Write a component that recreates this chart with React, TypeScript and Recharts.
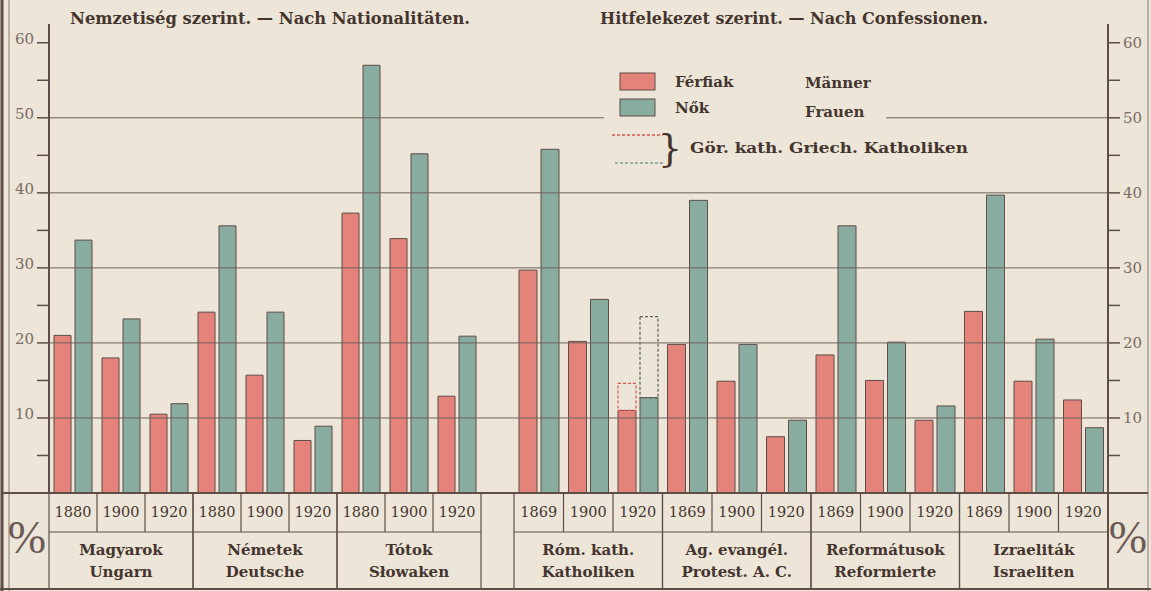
import React from "react";
import { Bar, BarChart, ReferenceLine, XAxis, YAxis } from "recharts";

// Nemzetiség szerint / Nach Nationalitäten
const natGroupsHu = ["Magyarok", "Németek", "Tótok"];
const natGroupsDe = ["Ungarn", "Deutsche", "Słowaken"];
const natYears = ["1880", "1900", "1920"];
const natMen = [21, 18, 10.5, 24.1, 15.7, 7, 37.3, 33.9, 12.9];
const natWomen = [33.7, 23.2, 11.9, 35.6, 24.1, 8.9, 57, 45.2, 20.9];

// Hitfelekezet szerint / Nach Confessionen
const confGroupsHu = ["Róm. kath.", "Ag. evangél.", "Reformátusok", "Izraeliták"];
const confGroupsDe = ["Katholiken", "Protest. A. C.", "Reformierte", "Israeliten"];
const confYears = ["1869", "1900", "1920"];
const confMen = [29.7, 20.2, 11, 19.8, 14.9, 7.5, 18.4, 15, 9.7, 24.2, 14.9, 12.4];
const confWomen = [45.8, 25.8, 12.7, 39, 19.8, 9.7, 35.6, 20.1, 11.6, 39.7, 20.5, 8.7];
// Gör. kath. (dashed, only above Róm. kath. 1920)
const greekMen = [null, null, 14.6, null, null, null, null, null, null, null, null, null];
const greekWomen = [null, null, 23.5, null, null, null, null, null, null, null, null, null];

const yTicks = [0, 5, 10, 15, 20, 25, 30, 35, 40, 45, 50, 55, 60];
const gridValues = [10, 20, 30, 40, 50];

const PAPER = "#ece5d8";
const INK = "#45352f";
const RULE = "#5e4d48";
const RED = "#e4837a";
const TEAL = "#88aca0";

const W = 1151;
const H = 591;
const AXIS_L = 49;
const AXIS_R = 1108;
const SPLIT = 499;
const ZERO_Y = 493;
const TABLE_BOTTOM = 589;

function buildRows(groups: string[], years: string[], men: number[], women: number[], gkMen?: (number | null)[], gkWomen?: (number | null)[]) {
  return men.map((m, i) => {
    const gm = gkMen ? gkMen[i] : null;
    const gw = gkWomen ? gkWomen[i] : null;
    return {
      key: groups[Math.floor(i / 3)] + " " + years[i % 3],
      men: m,
      women: women[i],
      menGk: gm != null ? gm - m : null,
      womenGk: gw != null ? gw - women[i] : null,
    };
  });
}

const natRows = buildRows(natGroupsHu, natYears, natMen, natWomen);
const confRows = buildRows(confGroupsHu, confYears, confMen, confWomen, greekMen, greekWomen);

const serif = "'DejaVu Serif', serif";

function tableTick(groupsHu: string[], groupsDe: string[], years: string[], band: number) {
  return (props: any) => {
    const { x, y, index } = props;
    const half = band / 2;
    const pos = index % 3;
    const g = Math.floor(index / 3);
    const midY = y + 39;
    const botY = TABLE_BOTTOM;
    return (
      <g>
        <text x={x} y={y + 24} textAnchor="middle" fontFamily={serif} fontSize={14.5} fill={INK}>
          {years[pos]}
        </text>
        <line x1={x - half} x2={x - half} y1={y} y2={pos === 0 ? botY : midY} stroke={RULE} strokeWidth={1.2} />
        {pos === 2 && <line x1={x + half} x2={x + half} y1={y} y2={botY} stroke={RULE} strokeWidth={1.2} />}
        {pos === 1 && (
          <g>
            <line x1={x - 3 * half} x2={x + 3 * half} y1={midY} y2={midY} stroke={RULE} strokeWidth={1.2} />
            <text x={x} y={y + 62} textAnchor="middle" fontFamily={serif} fontWeight="bold" fontSize={15} fill={INK}>
              {groupsHu[g]}
            </text>
            <text x={x} y={y + 84} textAnchor="middle" fontFamily={serif} fontWeight="bold" fontSize={15} fill={INK}>
              {groupsDe[g]}
            </text>
          </g>
        )}
      </g>
    );
  };
}

const leftTick = (p: any) => {
  const v = p.payload.value;
  if (v === 0 || v % 10 !== 0) return <g />;
  return (
    <text x={p.x} y={p.y - 4} dy="0.35em" textAnchor="end" fontFamily={serif} fontSize={15} fill="#7b6b65">
      {v}
    </text>
  );
};

const rightTick = (p: any) => {
  const v = p.payload.value;
  if (v === 0 || v % 10 !== 0) return <g />;
  return (
    <text x={p.x} y={p.y} dy="0.35em" textAnchor="start" fontFamily={serif} fontSize={15} fill="#7b6b65">
      {v}
    </text>
  );
};

function renderBars() {
  return [
    <Bar key="m" dataKey="men" stackId="m" fill={RED} stroke={RULE} strokeWidth={1} isAnimationActive={false} />,
    <Bar key="mg" dataKey="menGk" stackId="m" fill="none" stroke="#d9574f" strokeWidth={1.2} strokeDasharray="3 2" isAnimationActive={false} />,
    <Bar key="w" dataKey="women" stackId="w" fill={TEAL} stroke={RULE} strokeWidth={1} isAnimationActive={false} />,
    <Bar key="wg" dataKey="womenGk" stackId="w" fill="none" stroke="#55605c" strokeWidth={1.2} strokeDasharray="3 2" isAnimationActive={false} />,
  ];
}

export default function App() {
  const natBand = (481 - AXIS_L) / natRows.length;
  const confBand = (AXIS_R - 514) / confRows.length;
  return (
    <div style={{ position: "absolute", left: 0, top: 0, width: W, height: H, background: PAPER, overflow: "hidden" }}>
      <div style={{ position: "absolute", left: 0, top: 0 }}>
        <BarChart width={SPLIT} height={H} data={natRows} margin={{ top: 24, right: 0, bottom: H - TABLE_BOTTOM, left: 0 }} barCategoryGap={5} barGap={4}>
          {gridValues.map((v) => (
            <ReferenceLine key={v} y={v} stroke="#6f625d" strokeWidth={1} />
          ))}
          <XAxis
            dataKey="key"
            height={TABLE_BOTTOM - ZERO_Y}
            padding={{ left: 0, right: SPLIT - 481 }}
            interval={0}
            tickSize={0}
            tickMargin={0}
            tickLine={false}
            axisLine={{ stroke: RULE, strokeWidth: 1.8 }}
            tick={tableTick(natGroupsHu, natGroupsDe, natYears, natBand)}
          />
          <YAxis
            width={AXIS_L}
            domain={[0, 62.5]}
            ticks={yTicks}
            interval={0}
            tickSize={12}
            tickMargin={3}
            axisLine={{ stroke: RULE, strokeWidth: 2 }}
            tickLine={{ stroke: RULE, strokeWidth: 1.5 }}
            tick={leftTick}
          />
          {renderBars()}
        </BarChart>
      </div>
      <div style={{ position: "absolute", left: SPLIT, top: 0 }}>
        <BarChart width={W - SPLIT} height={H} data={confRows} margin={{ top: 24, right: 0, bottom: H - TABLE_BOTTOM, left: 0 }} barCategoryGap={5} barGap={4}>
          {gridValues.map((v) => (
            <ReferenceLine key={v} y={v} stroke="#6f625d" strokeWidth={1} />
          ))}
          <XAxis
            dataKey="key"
            height={TABLE_BOTTOM - ZERO_Y}
            padding={{ left: 514 - SPLIT, right: 0 }}
            interval={0}
            tickSize={0}
            tickMargin={0}
            tickLine={false}
            axisLine={{ stroke: RULE, strokeWidth: 1.8 }}
            tick={tableTick(confGroupsHu, confGroupsDe, confYears, confBand)}
          />
          <YAxis
            orientation="right"
            width={W - AXIS_R}
            domain={[0, 62.5]}
            ticks={yTicks}
            interval={0}
            tickSize={12}
            tickMargin={3}
            axisLine={{ stroke: RULE, strokeWidth: 2 }}
            tickLine={{ stroke: RULE, strokeWidth: 1.5 }}
            tick={rightTick}
          />
          {renderBars()}
        </BarChart>
      </div>
      <svg width={W} height={H} style={{ position: "absolute", left: 0, top: 0, pointerEvents: "none" }}>
        {/* frame and % cells */}
        <line x1={2} x2={2} y1={0} y2={H} stroke={RULE} strokeWidth={3} />
        <line x1={9} x2={9} y1={0} y2={H} stroke="#8a7b76" strokeWidth={1} />
        <line x1={1148} x2={1148} y1={0} y2={H} stroke="#8a7b76" strokeWidth={1} />
        <line x1={2} x2={AXIS_L} y1={ZERO_Y} y2={ZERO_Y} stroke={RULE} strokeWidth={1.8} />
        <line x1={AXIS_R} x2={1148} y1={ZERO_Y} y2={ZERO_Y} stroke={RULE} strokeWidth={1.8} />
        <line x1={AXIS_R} x2={AXIS_R} y1={ZERO_Y} y2={TABLE_BOTTOM} stroke={RULE} strokeWidth={2} />
        <line x1={0} x2={W} y1={TABLE_BOTTOM} y2={TABLE_BOTTOM} stroke={RULE} strokeWidth={2} />
        <text x={27} y={553} textAnchor="middle" fontFamily="'Liberation Serif', serif" fontSize={46} fill="#6a5a55">%</text>
        <text x={1128} y={553} textAnchor="middle" fontFamily="'Liberation Serif', serif" fontSize={46} fill="#6a5a55">%</text>

        {/* headings */}
        <text x={70} y={24} fontFamily={serif} fontWeight="bold" fontSize={16} fill={INK} textLength={400} lengthAdjust="spacingAndGlyphs">
          Nemzetiség szerint. — Nach Nationalitäten.
        </text>
        <text x={600} y={24} fontFamily={serif} fontWeight="bold" fontSize={16} fill={INK} textLength={388} lengthAdjust="spacingAndGlyphs">
          Hitfelekezet szerint. — Nach Confessionen.
        </text>

        {/* legend */}
        <rect x={604} y={62} width={282} height={108} fill={PAPER} />
        <rect x={620} y={73} width={35} height={17} fill={RED} stroke={RULE} strokeWidth={1} />
        <rect x={620} y={99} width={35} height={17} fill={TEAL} stroke={RULE} strokeWidth={1} />
        <text x={675} y={87} fontFamily={serif} fontWeight="bold" fontSize={15} fill={INK}>Férfiak</text>
        <text x={675} y={113} fontFamily={serif} fontWeight="bold" fontSize={15} fill={INK}>Nők</text>
        <text x={805} y={88} fontFamily={serif} fontWeight="bold" fontSize={15} fill={INK}>Männer</text>
        <text x={805} y={117} fontFamily={serif} fontWeight="bold" fontSize={15} fill={INK}>Frauen</text>
        <line x1={612} x2={663} y1={135} y2={135} stroke="#d9574f" strokeWidth={1.5} strokeDasharray="3 2" />
        <line x1={615} x2={663} y1={163} y2={163} stroke="#7e9a92" strokeWidth={1.5} strokeDasharray="3 2" />
        <text x={670} y={161} textAnchor="middle" fontFamily={serif} fontSize={38} fill={INK}>{"}"}</text>
        <text x={690} y={153} fontFamily={serif} fontWeight="bold" fontSize={15} fill={INK} textLength={278} lengthAdjust="spacingAndGlyphs">
          Gör. kath. Griech. Katholiken
        </text>
      </svg>
    </div>
  );
}
